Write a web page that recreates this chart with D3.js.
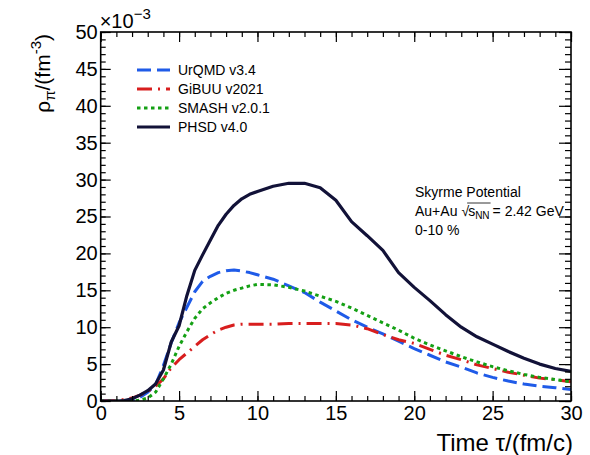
<!DOCTYPE html>
<html>
<head>
<meta charset="utf-8">
<script src="https://cdn.jsdelivr.net/npm/d3@7"></script>
<style>
  body { margin: 0; background: #fff; }
  svg { font-family: "Liberation Sans", Arial, sans-serif; }
</style>
</head>
<body>
<svg id="chart" width="590" height="455"></svg>
<script>
// time grid, fm/c
const time = [0, 1, 1.5, 2, 2.5, 3, 3.5, 4, 4.5, 5,
  5.5, 6, 6.5, 7, 7.5, 8, 8.5, 9, 9.5, 10,
  11, 12, 13, 14, 15, 16, 17, 18, 19, 20,
  21, 22, 23, 24, 25, 26, 27, 28, 29, 30]

// pion density, units of 1e-3 fm^-3
const urqmd = [0, 0, 0, 0.1, 0.5, 1.2, 2.2, 4.8, 7.9, 10.6,
  12.7, 14.8, 16.2, 16.9, 17.4, 17.65, 17.75, 17.6, 17.4, 17.1,
  16.5, 15.6, 14.7, 13.4, 12.2, 11.0, 10.0, 9.1, 8.1, 7.1,
  6.2, 5.3, 4.6, 3.8, 3.2, 2.7, 2.3, 2.0, 1.8, 1.55]
const gibuu = [0, 0.05, 0.2, 0.4, 0.8, 1.3, 2.0, 3.0, 4.5, 5.6,
  6.5, 7.4, 8.3, 9.0, 9.6, 10.0, 10.3, 10.4, 10.4, 10.4,
  10.4, 10.5, 10.5, 10.5, 10.5, 10.3, 9.8, 9.0, 8.3, 7.8,
  7.0, 6.2, 5.6, 4.9, 4.4, 3.9, 3.5, 3.1, 2.9, 2.6]
const smash = [0, 0, 0, 0, 0.1, 0.4, 1.2, 3.0, 5.0, 7.4,
  9.4, 11.2, 12.5, 13.3, 14.0, 14.6, 15.0, 15.3, 15.6, 15.8,
  15.75, 15.4, 14.9, 14.2, 13.5, 12.6, 11.6, 10.6, 9.6, 8.5,
  7.6, 6.8, 6.0, 5.3, 4.65, 4.1, 3.6, 3.2, 2.9, 2.6]
const phsd = [0, 0, 0.05, 0.3, 0.8, 1.4, 2.3, 4.2, 8.0, 10.2,
  14.3, 17.7, 19.8, 21.8, 23.8, 25.3, 26.5, 27.4, 28.0, 28.4,
  29.1, 29.5, 29.5, 28.9, 27.2, 24.3, 22.4, 20.4, 17.4, 15.4,
  13.6, 11.7, 10.0, 8.7, 7.7, 6.7, 5.8, 5.0, 4.4, 4.0]

const seriesNames = ['UrQMD v3.4', 'GiBUU v2021', 'SMASH v2.0.1', 'PHSD v4.0']
const xTicks = [0, 5, 10, 15, 20, 25, 30]
const yTicks = [0, 5, 10, 15, 20, 25, 30, 35, 40, 45, 50]
const infoLines = ['Skyrme Potential', 'Au+Au', '0-10 %']

const series = [
  {name: seriesNames[0], values: urqmd, color: '#1f5be8', dash: '14 6', width: 3},
  {name: seriesNames[1], values: gibuu, color: '#d81e1e', dash: '15 6 2 6', width: 3},
  {name: seriesNames[2], values: smash, color: '#14a014', dash: '3.5 3.5', width: 3},
  {name: seriesNames[3], values: phsd, color: '#121238', dash: null, width: 3.2}
]

const svg = d3.select('#chart')
const frame = {left: 100.7, right: 571, top: 32, bottom: 401}

const x = d3.scaleLinear().domain([0, 30]).range([frame.left, frame.right])
const y = d3.scaleLinear().domain([0, 50]).range([frame.bottom, frame.top])

svg.append('clipPath').attr('id', 'frameClip')
  .append('rect')
  .attr('x', frame.left).attr('y', frame.top)
  .attr('width', frame.right - frame.left).attr('height', frame.bottom - frame.top)

// curves
const line = d3.line()
  .x((d, i) => x(time[i]))
  .y(d => y(d))

const curves = svg.append('g').attr('clip-path', 'url(#frameClip)')
series.forEach(s => {
  curves.append('path')
    .datum(s.values)
    .attr('fill', 'none')
    .attr('stroke', s.color)
    .attr('stroke-width', s.width)
    .attr('stroke-dasharray', s.dash)
    .attr('stroke-linejoin', 'round')
    .attr('d', line)
})

// axes, ROOT style ticks inside the frame
const minorX = d3.range(0, 31, 1)
const minorY = d3.range(0, 51, 1)

function axisStyle(g) {
  g.select('.domain').remove()
  g.selectAll('.tick line').attr('stroke', '#000').attr('stroke-width', 1.2)
  g.selectAll('text').attr('fill', '#000').attr('font-size', 20)
}

svg.append('g')
  .attr('transform', `translate(0, ${frame.bottom})`)
  .call(d3.axisBottom(x).tickValues(minorX).tickSize(-5).tickFormat(''))
  .call(axisStyle)
svg.append('g')
  .attr('transform', `translate(0, ${frame.bottom})`)
  .call(d3.axisBottom(x).tickValues(xTicks).tickSize(-10).tickPadding(5).tickFormat(d3.format('d')))
  .call(axisStyle)
svg.append('g')
  .attr('transform', `translate(0, ${frame.top})`)
  .call(d3.axisTop(x).tickValues(minorX).tickSize(-5).tickFormat(''))
  .call(axisStyle)
svg.append('g')
  .attr('transform', `translate(0, ${frame.top})`)
  .call(d3.axisTop(x).tickValues(xTicks).tickSize(-10).tickFormat(''))
  .call(axisStyle)

svg.append('g')
  .attr('transform', `translate(${frame.left}, 0)`)
  .call(d3.axisLeft(y).tickValues(minorY).tickSize(-5).tickFormat(''))
  .call(axisStyle)
svg.append('g')
  .attr('transform', `translate(${frame.left}, 0)`)
  .call(d3.axisLeft(y).tickValues(yTicks).tickSize(-10).tickPadding(3).tickFormat(d3.format('d')))
  .call(axisStyle)
svg.append('g')
  .attr('transform', `translate(${frame.right}, 0)`)
  .call(d3.axisRight(y).tickValues(minorY).tickSize(-6).tickFormat(''))
  .call(axisStyle)
svg.append('g')
  .attr('transform', `translate(${frame.right}, 0)`)
  .call(d3.axisRight(y).tickValues(yTicks).tickSize(-12).tickFormat(''))
  .call(axisStyle)

svg.append('rect')
  .attr('x', frame.left).attr('y', frame.top)
  .attr('width', frame.right - frame.left).attr('height', frame.bottom - frame.top)
  .attr('fill', 'none').attr('stroke', '#000').attr('stroke-width', 1.6)

// exponent
const expo = svg.append('text').attr('x', frame.left - 1).attr('y', 28).attr('font-size', 20)
expo.append('tspan').text('\u00d710')
expo.append('tspan').attr('dy', -9).attr('font-size', 15).text('\u22123')

// axis titles
const yt = svg.append('text')
  .attr('transform', `translate(50, ${frame.top + 2}) rotate(-90)`)
  .attr('text-anchor', 'end')
  .attr('font-size', 21)
yt.append('tspan').text('\u03c1')
yt.append('tspan').attr('dy', 5).attr('font-size', 15).text('\u03c0')
yt.append('tspan').attr('dy', -5).text('/(fm')
yt.append('tspan').attr('dy', -9).attr('font-size', 15).text('-3')
yt.append('tspan').attr('dy', 9).text(')')

svg.append('text')
  .attr('x', 573).attr('y', 451)
  .attr('text-anchor', 'end')
  .attr('font-size', 24)
  .text('Time \u03c4/(fm/c)')

// legend
const legend = svg.append('g')
series.forEach((s, i) => {
  const ly = 70 + i * 19
  legend.append('line')
    .attr('x1', 137).attr('x2', 170).attr('y1', ly).attr('y2', ly)
    .attr('stroke', s.color).attr('stroke-width', s.width)
    .attr('stroke-dasharray', s.dash)
  legend.append('text')
    .attr('x', 178).attr('y', ly + 5)
    .attr('font-size', 14)
    .text(s.name)
})

// info text
const info = svg.append('g').attr('font-size', 14)
info.append('text').attr('x', 415).attr('y', 197).text(infoLines[0])
const au = info.append('text').attr('x', 415).attr('y', 216).text(infoLines[1])
let cx = 415 + au.node().getComputedTextLength() + 4
const rad = info.append('text').attr('x', cx).attr('y', 216).text('\u221a')
cx += rad.node().getComputedTextLength() - 1
const sText = info.append('text').attr('x', cx).attr('y', 216)
sText.append('tspan').text('s')
sText.append('tspan').attr('dy', 3).attr('font-size', 10).text('NN')
const sWidth = sText.node().getComputedTextLength()
info.append('line')
  .attr('x1', cx - 1).attr('x2', cx + sWidth + 1)
  .attr('y1', 203).attr('y2', 203)
  .attr('stroke', '#000').attr('stroke-width', 0.8)
info.append('text').attr('x', cx + sWidth + 3).attr('y', 216).text('= 2.42 GeV')
info.append('text').attr('x', 415).attr('y', 235).text(infoLines[2])
</script>
</body>
</html>
